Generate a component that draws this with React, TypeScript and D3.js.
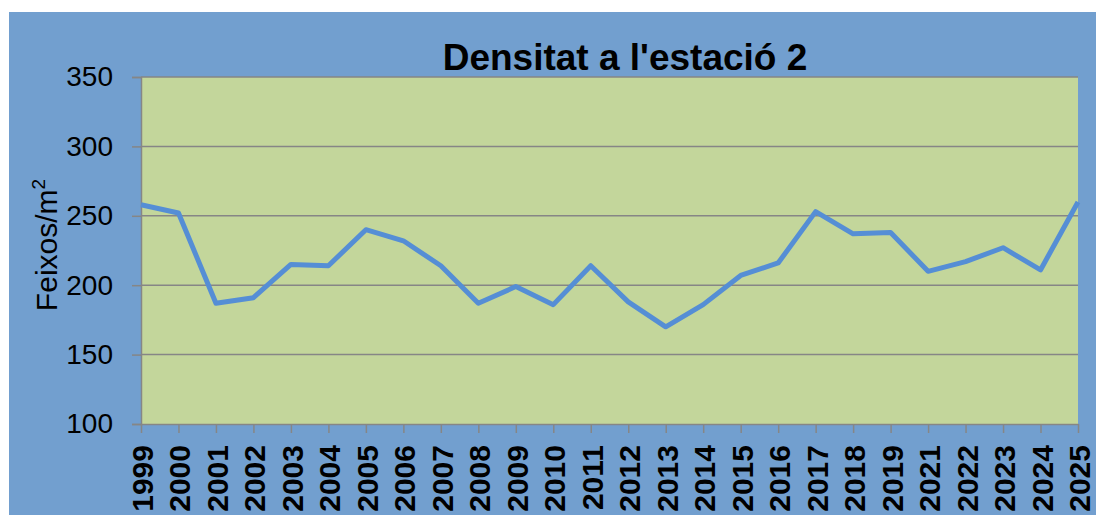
import * as d3 from "d3";
import { useEffect, useRef } from "react";

const years = ["1999","2000","2001","2002","2003","2004","2005","2006","2007","2008","2009","2010","2011","2012","2013","2014","2015","2016","2017","2018","2019","2021","2022","2023","2024","2025"];
const density = [258,252,187,191,215,214,240,232,214,187,199,186,214,188,170,186,207,216,253,237,238,210,217,227,211,260];
const yTicks = [100,150,200,250,300,350];

const W = 1096;
const H = 515;

export default function App() {
  const svgRef = useRef(null);

  useEffect(() => {
    const svg = d3.select(svgRef.current);
    svg.selectAll("*").remove();

    const left = 141, right = 1078, top = 77, bottom = 424;

    const x = d3.scalePoint().domain(years).range([left, right]);
    const y = d3.scaleLinear().domain([100, 350]).range([bottom, top]);

    // outer background
    svg.append("rect").attr("x", 9).attr("y", 12).attr("width", W - 9).attr("height", H - 12).attr("fill", "#729fcf");
    // plot area
    svg.append("rect").attr("x", left).attr("y", top).attr("width", right - left).attr("height", bottom - top).attr("fill", "#c3d69b");

    // gridlines
    svg.append("g").selectAll("line").data(yTicks.filter(d => d > 100)).join("line")
      .attr("x1", left).attr("x2", right).attr("y1", d => y(d)).attr("y2", d => y(d))
      .attr("stroke", "#868686").attr("stroke-width", 1.5);

    // y axis
    const ya = svg.append("g").attr("transform", `translate(${left},0)`)
      .call(d3.axisLeft(y).tickValues(yTicks).tickSize(9).tickPadding(19));
    ya.select(".domain").attr("stroke", "#868686").attr("stroke-width", 1.5);
    ya.selectAll(".tick line").attr("stroke", "#868686").attr("stroke-width", 1.5);
    ya.selectAll(".tick text").attr("font-family", "Liberation Sans, Arial, sans-serif").attr("font-size", 28).attr("fill", "#000");

    // x axis
    const xa = svg.append("g").attr("transform", `translate(0,${bottom})`)
      .call(d3.axisBottom(x).tickSize(9).tickSizeOuter(0));
    xa.select(".domain").attr("stroke", "#868686").attr("stroke-width", 1.5);
    xa.selectAll(".tick line").attr("stroke", "#868686").attr("stroke-width", 1.5);
    xa.selectAll(".tick text")
      .attr("font-family", "Liberation Sans, Arial, sans-serif").attr("font-size", 30).attr("font-weight", "bold").attr("fill", "#000")
      .attr("text-anchor", "end").attr("dy", "0.35em").attr("y", 0)
      .attr("transform", "translate(1,21) rotate(-90)");

    // line
    const line = d3.line<number>().x((d, i) => x(years[i])).y(d => y(d));
    svg.append("path").datum(density).attr("d", line).attr("fill", "none")
      .attr("stroke", "#558ed5").attr("stroke-width", 5).attr("stroke-linejoin", "round");

    // title
    svg.append("text").attr("x", 625).attr("y", 70).attr("text-anchor", "middle")
      .attr("font-family", "Liberation Sans, Arial, sans-serif").attr("font-weight", "bold").attr("font-size", 37)
      .attr("fill", "#000").text("Densitat a l'estació 2");

    // y title
    const yt = svg.append("text").attr("transform", "translate(57,245) rotate(-90)").attr("text-anchor", "middle")
      .attr("font-family", "Liberation Sans, Arial, sans-serif").attr("font-size", 30)
      .attr("fill", "#000");
    yt.append("tspan").text("Feixos/m");
    yt.append("tspan").attr("font-size", 19).attr("dy", -12).text("2");
  }, []);

  return <svg ref={svgRef} width={W} height={H} style={{ position: "absolute", left: 0, top: 0 }} xmlns="http://www.w3.org/2000/svg" />;
}
